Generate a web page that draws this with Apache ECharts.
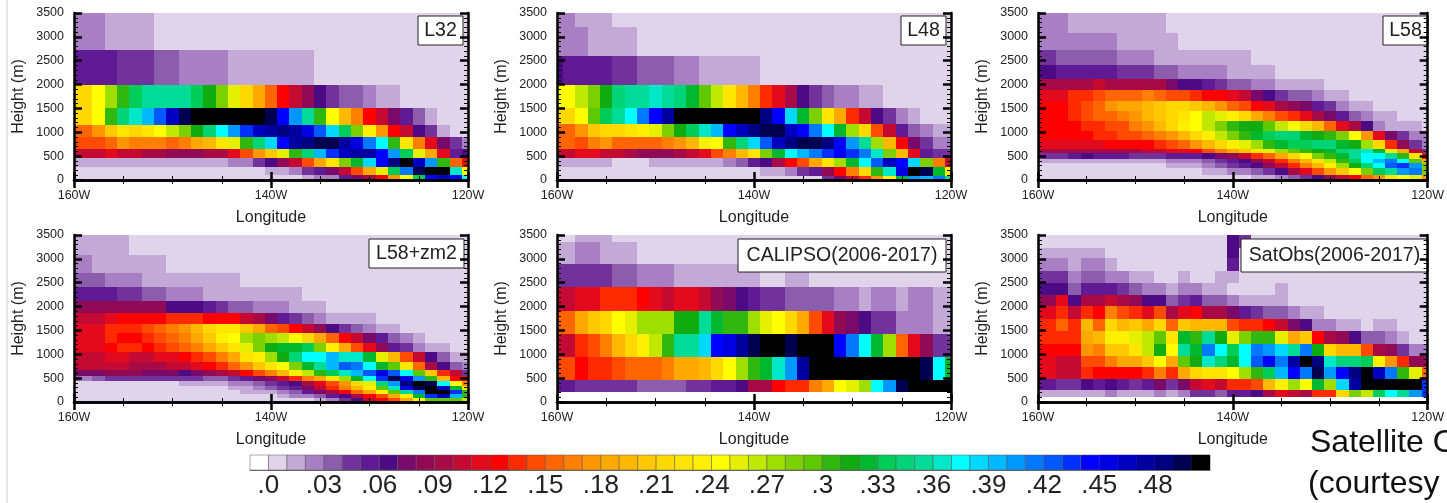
<!DOCTYPE html>
<html>
<head>
<meta charset="utf-8">
<title>Cloud fraction sections</title>
<script src="https://cdn.jsdelivr.net/npm/echarts@6/dist/echarts.min.js"></script>
<style>
  body { margin: 0; background: #fff; overflow: hidden; }
  #chart { width: 1447px; height: 503px; }
</style>
</head>
<body>
<div id="chart"></div>
<script>
// colour bar, one colour per 0.01 bin, index 0 is the white cell below .0
var palette = ['#ffffff','#e0d4ea','#c3a9d5','#a87fc2','#8c5cad','#72329c','#5f1a94','#4d0a85','#7a0a6a','#900a55','#a80a45','#c40a32','#e30a1e','#ff0000','#ff2a00','#ff4b00','#ff6500','#ff7f00','#ff9500','#ffa800','#ffb800','#ffc800','#ffd800','#ffe600','#fff000','#ffff00','#e4f000','#c0e800','#a0de00','#7dd000','#5ec800','#30b810','#10ac10','#00b830','#00cc58','#00d478','#00dc98','#00e8c8','#00ffff','#00d8ff','#00b8ff','#0098ff','#0078ff','#0058ff','#0030ff','#0000ff','#0000e0','#0000c0','#0000a0','#000080','#000050','#000000'];
var colorbarTicks = [0,3,6,9,12,15,18,21,24,27,30,33,36,39,42,45,48];
var colorbarLabels = ['.0','.03','.06','.09','.12','.15','.18','.21','.24','.27','.3','.33','.36','.39','.42','.45','.48'];

// longitudes of the 33 columns, every 1.25 degrees
var lons = [-160,-158.75,-157.5,-156.25,-155,-153.75,-152.5,-151.25,-150,-148.75,-147.5,-146.25,-145,-143.75,-142.5,-141.25,-140,-138.75,-137.5,-136.25,-135,-133.75,-132.5,-131.25,-130,-128.75,-127.5,-126.25,-125,-123.75,-122.5,-121.25,-120];

// each panel: height edges (m, top down) and one row of colour bins per layer
var l32Heights = [3500,2733,2000,1500,1150,906,650,453,280,105,0];
var l32Rows = [
  [3,3,3,2,2,2,2,1,1,1,1,1,1,1,1,1,1,1,1,1,1,1,1,1,1,1,1,1,1,1,1,1,1],
  [6,6,6,6,5,5,5,4,4,3,3,3,3,2,2,2,2,2,2,2,1,1,1,1,1,1,1,1,1,1,1,1,1],
  [22,22,25,28,31,34,36,36,36,36,34,32,29,26,22,19,16,13,11,9,7,5,4,4,3,2,2,1,1,1,1,1,1],
  [22,22,25,31,35,37,40,43,47,50,51,51,51,51,51,51,50,45,41,36,31,25,20,17,13,11,8,6,4,2,1,1,1],
  [16,16,18,21,23,22,23,25,27,29,32,35,38,41,44,47,48,49,48,46,43,39,34,29,24,18,13,11,7,5,2,1,1],
  [15,15,15,16,18,17,17,17,16,17,19,20,23,26,31,35,39,45,48,49,50,50,48,46,42,38,31,23,17,12,8,5,3],
  [11,11,11,12,11,11,10,10,9,9,9,10,10,12,15,18,21,26,31,35,40,44,47,48,48,45,41,34,26,19,12,6,7],
  [2,2,2,2,2,2,2,2,2,2,2,2,2,3,3,5,7,9,11,15,19,23,29,33,39,45,49,51,47,41,31,16,12],
  [1,1,1,1,1,1,1,1,1,1,1,1,1,1,1,1,2,2,3,5,6,8,11,15,19,26,34,42,50,51,51,37,25],
  [1,1,1,1,1,1,1,1,1,1,1,1,1,1,1,1,1,1,1,2,3,3,6,8,10,13,18,25,34,45,47,45,38]
];

var l48Heights = [3500,3208,2601,2000,1500,1170,906,660,467,280,84,0];
var l48Rows = [
  [3,3,2,2,2,1,1,1,1,1,1,1,1,1,1,1,1,1,1,1,1,1,1,1,1,1,1,1,1,1,1,1,1],
  [3,3,3,2,2,2,2,1,1,1,1,1,1,1,1,1,1,1,1,1,1,1,1,1,1,1,1,1,1,1,1,1,1],
  [7,6,6,6,6,5,5,4,4,4,3,3,2,2,2,2,2,1,1,1,1,1,1,1,1,1,1,1,1,1,1,1,1],
  [25,25,27,29,32,35,36,36,37,36,35,33,30,27,23,20,17,14,12,10,7,5,4,3,3,2,2,1,1,1,1,1,1],
  [22,22,25,30,34,36,38,42,45,48,51,51,51,51,51,51,51,49,45,39,33,29,23,19,14,11,7,5,3,2,1,1,1],
  [16,16,18,21,22,22,23,24,26,29,32,34,37,40,45,47,49,50,50,47,45,42,38,33,28,22,15,11,6,4,3,2,2],
  [16,16,15,17,18,16,16,16,16,17,18,20,24,25,31,35,39,43,47,49,50,50,49,45,41,36,28,20,13,8,5,3,3],
  [11,11,12,12,11,11,10,9,9,9,10,11,12,15,17,20,23,29,33,38,40,42,44,45,44,42,37,29,20,12,6,5,5],
  [2,2,2,2,2,1,1,1,2,2,2,2,2,2,3,4,6,7,10,13,15,19,23,28,33,38,43,47,45,39,29,17,11],
  [1,1,1,1,1,1,1,1,1,1,1,1,1,1,1,1,1,2,2,3,5,6,9,13,17,22,31,37,46,51,50,33,24],
  [1,1,1,1,1,1,1,1,1,1,1,1,1,1,1,1,1,1,1,1,1,1,5,8,11,14,18,24,33,41,40,42,36]
];

var l58Heights = [3500,3082,2734,2406,2127,1883,1660,1450,1241,1032,837,649,558,432,349,244,105,0];
var l58Rows = [
  [3,3,3,2,2,2,2,2,2,2,2,1,1,1,1,1,1,1,1,1,1,1,1,1,1,1,1,1,1,1,1,1,1],
  [3,3,3,3,3,3,3,2,2,2,2,2,1,1,1,1,1,1,1,1,1,1,1,1,1,1,1,1,1,1,1,1,1],
  [5,5,4,4,4,4,4,3,3,3,2,2,2,2,2,2,2,2,1,1,1,1,1,1,1,1,1,1,1,1,1,1,1],
  [7,7,6,6,6,6,6,5,5,5,4,4,3,3,3,3,2,2,2,2,1,1,1,1,1,1,1,1,1,1,1,1,1],
  [10,10,10,10,10,11,10,10,10,10,10,8,7,7,6,5,4,4,3,3,2,2,2,2,1,1,1,1,1,1,1,1,1],
  [12,12,12,14,14,15,16,16,16,17,16,15,15,14,13,13,12,11,8,7,5,4,4,3,2,2,1,1,1,1,1,1,1],
  [13,13,13,14,15,16,18,19,19,20,21,22,22,21,20,18,16,15,13,12,10,9,8,6,5,3,2,2,1,1,1,1,1],
  [13,13,13,14,15,16,16,17,18,20,21,22,23,25,27,26,24,22,19,17,15,14,12,10,8,6,4,3,2,2,1,1,1],
  [13,13,13,13,14,14,15,15,17,18,20,22,24,25,27,29,31,32,32,30,27,25,22,20,16,12,10,7,3,2,2,2,1],
  [13,13,13,13,13,14,14,15,15,16,17,18,20,22,24,27,29,31,33,34,35,35,33,32,31,29,25,18,12,8,5,3,3],
  [12,12,12,12,12,12,13,13,13,13,14,15,16,18,20,22,24,26,28,31,33,34,34,35,35,33,32,28,22,14,9,5,3],
  [10,10,10,10,10,10,10,10,10,11,11,12,12,13,15,17,19,21,23,26,28,30,31,32,33,35,36,37,33,26,19,11,5],
  [5,5,5,6,7,6,6,6,5,5,5,6,6,6,7,8,9,11,14,16,19,22,25,29,31,33,36,38,38,36,31,23,13],
  [2,2,2,2,2,2,2,2,2,2,2,3,3,3,4,5,6,7,9,11,14,17,20,23,27,31,34,38,40,42,38,30,20],
  [1,1,1,1,1,1,1,1,1,1,1,2,2,2,3,4,5,6,7,9,11,14,17,20,24,28,32,35,38,43,44,41,29],
  [1,1,1,1,1,1,1,1,1,1,1,1,1,1,2,2,3,3,4,5,7,10,12,15,18,21,25,29,34,36,41,42,29],
  [1,1,1,1,1,1,1,1,1,1,1,1,1,1,1,1,1,1,2,2,3,4,5,7,9,11,13,16,18,23,25,26,18]
];

var zm2Heights = [3500,3083,2714,2401,2122,1865,1642,1447,1239,1044,842,661,543,438,334,251,160,77,0];
var zm2Rows = [
  [2,2,2,2,2,1,1,1,1,1,1,1,1,1,1,1,1,1,1,1,1,1,1,1,1,1,1,1,1,1,1,1,1],
  [3,3,2,2,2,2,2,2,1,1,1,1,1,1,1,1,1,1,1,1,1,1,1,1,1,1,1,1,1,1,1,1,1],
  [4,4,4,3,3,3,2,2,2,2,2,2,2,2,1,1,1,1,1,1,1,1,1,1,1,1,1,1,1,1,1,1,1],
  [6,6,6,6,5,5,4,4,3,3,3,2,2,2,2,2,2,2,2,1,1,1,1,1,1,1,1,1,1,1,1,1,1],
  [9,9,9,9,9,9,9,9,7,7,7,6,5,4,4,3,3,3,2,2,2,1,1,1,1,1,1,1,1,1,1,1,1],
  [11,11,11,12,13,13,13,13,14,14,14,13,13,13,11,10,8,6,5,4,3,2,2,2,2,1,1,1,1,1,1,1,1],
  [12,12,12,14,14,14,15,16,17,18,20,22,23,23,21,19,16,15,13,11,9,7,5,4,3,2,2,1,1,1,1,1,1],
  [12,12,12,14,13,13,14,15,16,17,19,21,24,25,28,29,28,27,25,22,19,16,13,11,8,6,4,3,2,1,1,1,1],
  [12,12,12,13,14,14,13,14,15,16,17,19,21,23,26,29,32,33,33,34,29,24,19,15,12,9,6,5,3,2,2,1,1],
  [11,11,11,12,12,11,11,12,12,13,14,15,17,19,23,24,28,32,35,38,38,40,37,37,33,26,20,15,11,7,4,2,2],
  [11,11,11,11,11,10,10,10,11,11,12,13,14,16,18,21,23,25,29,33,36,40,43,42,38,33,30,23,16,10,7,4,3],
  [8,8,8,9,9,9,8,8,8,7,8,9,10,11,13,15,17,20,24,27,31,34,37,40,43,46,43,38,30,21,14,11,5],
  [4,3,4,5,5,5,5,5,5,5,5,4,4,5,6,8,9,11,14,17,19,23,28,33,38,44,50,46,41,31,20,13,12],
  [1,1,1,1,1,1,1,1,1,2,2,2,2,3,3,4,5,6,7,10,12,15,18,22,26,35,41,49,51,50,38,25,17],
  [1,1,1,1,1,1,1,1,1,1,1,1,1,2,2,3,4,5,6,8,11,14,17,20,24,30,37,46,50,51,47,33,26],
  [1,1,1,1,1,1,1,1,1,1,1,1,1,1,2,2,2,3,4,6,8,10,13,16,19,24,30,36,42,51,51,44,31],
  [1,1,1,1,1,1,1,1,1,1,1,1,1,1,1,1,1,2,3,3,4,6,7,10,13,15,19,24,33,44,47,40,31],
  [1,1,1,1,1,1,1,1,1,1,1,1,1,1,1,1,1,1,1,1,2,3,5,7,11,13,15,19,25,30,30,30,27]
];

var calipsoHeights = [3500,3361,2888,2400,1914,1427,946,466,216,0];
var calipsoRows = [
  [1,1,2,2,2,1,1,1,1,1,1,1,1,1,1,1,1,1,1,1,1,1,1,1,1,1,1,1,1,1,1,1,1],
  [2,2,3,3,2,2,2,1,1,1,1,1,1,1,1,1,1,1,1,1,1,1,1,1,1,1,1,1,1,1,1,1,1],
  [5,5,5,5,5,4,4,3,3,3,2,2,2,2,2,2,2,1,1,2,2,1,1,1,1,1,1,1,1,1,1,1,1],
  [11,11,12,12,14,14,14,13,12,11,12,12,11,9,8,7,6,5,5,4,4,4,4,3,3,2,3,3,2,3,3,2,2],
  [16,16,19,21,22,25,26,28,28,28,32,32,36,33,31,31,28,26,25,22,19,15,12,9,8,7,5,5,3,3,3,2,2],
  [11,11,14,15,17,20,22,24,27,31,36,36,39,45,46,48,50,51,51,50,51,51,51,45,42,38,33,28,16,12,9,5,5],
  [15,15,13,14,14,15,16,16,16,17,19,19,20,22,25,28,31,33,37,41,48,51,51,51,51,51,51,51,51,51,50,38,33],
  [6,6,5,5,5,5,5,4,4,4,4,5,5,6,6,7,10,10,13,14,14,17,19,25,26,28,38,41,50,51,51,51,51],
  [0,0,0,0,0,0,0,0,0,0,0,0,0,0,0,0,0,0,0,0,0,0,0,0,0,0,0,0,0,0,0,0,0]
];

var satobsHeights = [3500,3236,3027,2749,2491,2248,2004,1740,1482,1225,974,731,473,244,104,0];
var satobsRows = [
  [1,1,1,1,1,1,1,1,1,1,1,1,1,1,1,1,7,5,1,1,1,1,1,1,1,1,1,1,1,1,1,1,1],
  [2,2,2,2,2,2,1,1,1,1,1,1,1,1,1,1,7,1,1,1,1,1,1,1,1,1,1,1,1,1,1,1,1],
  [3,3,3,2,3,3,2,1,1,1,1,1,1,1,1,1,6,1,1,1,1,1,1,1,1,1,1,1,1,1,1,1,1],
  [5,5,5,3,4,4,3,3,2,2,1,1,2,1,1,2,2,1,1,1,1,1,1,1,1,1,1,1,1,1,1,1,1],
  [7,7,7,4,6,6,6,5,4,3,3,2,3,3,2,2,1,1,1,1,2,1,1,1,1,1,1,1,1,1,1,1,1],
  [9,9,12,7,10,10,11,10,9,7,7,4,5,6,4,4,3,2,2,2,2,1,1,1,1,1,1,1,1,1,1,1,1],
  [12,12,14,11,14,13,17,15,14,12,15,10,12,13,10,10,8,6,5,4,4,3,2,2,1,1,1,1,1,1,1,1,1],
  [14,14,16,14,20,16,22,20,21,19,22,16,21,20,20,20,15,14,14,13,11,8,7,3,3,2,2,1,2,2,1,1,1],
  [14,14,14,14,19,20,24,24,26,27,30,23,33,31,36,32,26,29,31,31,26,19,21,13,10,9,7,4,4,3,2,1,1],
  [13,13,13,13,18,17,21,21,23,27,32,25,36,33,42,38,34,38,42,41,39,36,42,32,22,20,20,15,10,9,5,3,3],
  [12,12,11,11,15,15,17,19,19,21,25,19,30,32,37,35,33,38,43,45,42,48,51,49,37,35,35,34,24,18,14,9,9],
  [12,12,11,11,14,13,13,13,13,14,17,14,19,22,23,23,25,28,31,34,40,45,42,50,41,45,49,51,47,42,31,26,16],
  [6,6,5,5,7,6,7,6,5,6,8,5,8,11,12,11,14,14,15,20,24,28,25,33,28,39,48,51,51,51,51,51,44],
  [2,2,2,2,2,2,3,2,2,2,3,2,3,5,5,4,6,6,7,10,12,11,10,14,14,22,29,27,34,38,36,41,44],
  [0,0,0,0,0,0,0,0,0,0,0,0,0,0,0,0,0,0,0,0,0,0,0,0,0,0,0,0,0,0,0,0,0]
];

var panels = [
  {name: 'L32', heights: l32Heights, rows: l32Rows, left: 74, top: 13, box: [418, 16, 45, 29]},
  {name: 'L48', heights: l48Heights, rows: l48Rows, left: 557, top: 13, box: [901, 16, 45, 29]},
  {name: 'L58', heights: l58Heights, rows: l58Rows, left: 1038, top: 13, box: [1383, 16, 45, 29]},
  {name: 'L58+zm2', heights: zm2Heights, rows: zm2Rows, left: 74, top: 235, box: [369, 239, 95, 29]},
  {name: 'CALIPSO(2006-2017)', heights: calipsoHeights, rows: calipsoRows, left: 557, top: 235, box: [738, 239, 208, 33]},
  {name: 'SatObs(2006-2017)', heights: satobsHeights, rows: satobsRows, left: 1038, top: 235, box: [1241, 239, 187, 33]}
];

var fontName = '"Liberation Sans", Arial, sans-serif';

// whole pixel edges so neighbouring cells leave no seam
function renderCell(params, api) {
  var p0 = api.coord([api.value(0), api.value(3)]);
  var p1 = api.coord([api.value(1), api.value(2)]);
  var x0 = Math.round(p0[0]), x1 = Math.round(p1[0]);
  var y0 = Math.round(p0[1]), y1 = Math.round(p1[1]);
  return {
    type: 'rect',
    shape: {x: x0, y: y0, width: x1 - x0, height: y1 - y0},
    style: {fill: palette[api.value(4)]}
  };
}

function panelCells(panel) {
  var cells = [];
  panel.rows.forEach(function (row, r) {
    row.forEach(function (bin, k) {
      cells.push([lons[k] - 0.625, lons[k] + 0.625, panel.heights[r + 1], panel.heights[r], bin]);
    });
  });
  return cells;
}

var grids = [], xAxes = [], yAxes = [], series = [], graphics = [];

panels.forEach(function (panel, i) {
  grids.push({left: panel.left, top: panel.top, width: 394, height: 167});
  var line = {show: true, lineStyle: {color: '#000', width: 2.5}};
  var tick = {show: true, inside: true, length: 8, lineStyle: {color: '#000', width: 2.5}};
  var xMinor = {show: true, splitNumber: 4, length: 4, lineStyle: {color: '#000', width: 1}};
  var yMinor = {show: true, splitNumber: 5, length: 4, lineStyle: {color: '#000', width: 1}};
  ['bottom', 'top'].forEach(function (pos) {
    xAxes.push({
      type: 'value', gridIndex: i, position: pos, min: -160, max: -120, interval: 20, z: 10,
      axisLine: line, axisTick: tick, minorTick: xMinor, splitLine: {show: false},
      name: pos == 'bottom' ? 'Longitude' : '', nameLocation: 'middle', nameGap: 30,
      nameTextStyle: {color: '#222', fontSize: 16, fontFamily: fontName},
      axisLabel: {
        show: pos == 'bottom', margin: 9, color: '#222', fontSize: 12.5, fontFamily: fontName,
        formatter: function (v) { return Math.abs(v) + 'W'; }
      }
    });
  });
  ['left', 'right'].forEach(function (pos) {
    yAxes.push({
      type: 'value', gridIndex: i, position: pos, min: 0, max: 3500, interval: 500, z: 10,
      axisLine: line, axisTick: tick, minorTick: yMinor, splitLine: {show: false},
      name: pos == 'left' ? 'Height (m)' : '', nameLocation: 'middle', nameGap: 47, nameRotate: 90,
      nameTextStyle: {color: '#222', fontSize: 16, fontFamily: fontName},
      axisLabel: {
        show: pos == 'left', margin: 10, color: '#222', fontSize: 12.5, fontFamily: fontName,
        formatter: function (v) { return String(v); }
      }
    });
  });
  series.push({
    type: 'custom', xAxisIndex: i * 2, yAxisIndex: i * 2, clip: true, z: 2,
    encode: {x: [0, 1], y: [2, 3]}, renderItem: renderCell, data: panelCells(panel)
  });
  graphics.push({
    type: 'rect', z: 5,
    shape: {x: panel.box[0], y: panel.box[1], width: panel.box[2], height: panel.box[3]},
    style: {fill: '#fff', stroke: '#222', lineWidth: 1}
  });
  graphics.push({
    type: 'text', z: 6, x: panel.box[0] + panel.box[2] / 2, y: panel.box[1] + panel.box[3] / 2,
    style: {text: panel.name, fill: '#222', font: '19.5px ' + fontName, textAlign: 'center', textVerticalAlign: 'middle'}
  });
});

// colour bar
var barIndex = panels.length;
grids.push({left: 250, top: 455, width: 960, height: 15});
xAxes.push({
  type: 'value', gridIndex: barIndex, min: -1, max: 51, z: 10,
  axisLine: {show: true, lineStyle: {color: '#666', width: 1}}, axisTick: {show: false}, splitLine: {show: false},
  axisLabel: {
    show: true, customValues: colorbarTicks, margin: 3, color: '#222', fontSize: 26, fontFamily: fontName,
    formatter: function (v) { return colorbarLabels[colorbarTicks.indexOf(v)]; }
  }
});
yAxes.push({type: 'value', gridIndex: barIndex, min: 0, max: 1, show: false});
series.push({
  type: 'custom', xAxisIndex: panels.length * 2, yAxisIndex: panels.length * 2, z: 2,
  encode: {x: 0, y: 1},
  renderItem: function (params, api) {
    var p0 = api.coord([api.value(0) - 1, 1]);
    var p1 = api.coord([api.value(0), 0]);
    var color = palette[api.value(0)];
    return {
      type: 'rect',
      shape: {x: p0[0], y: p0[1], width: p1[0] - p0[0], height: p1[1] - p0[1]},
      style: {fill: color, stroke: api.value(0) > 45 ? color : '#555', lineWidth: 0.5}
    };
  },
  data: palette.map(function (c, i) { return [i, 1]; })
});

// page furniture around the panels
graphics.push({type: 'line', shape: {x1: 7, y1: 0, x2: 7, y2: 503}, style: {stroke: '#cfcfcf', lineWidth: 1}});
graphics.push({type: 'text', x: 1310, y: 443, style: {text: 'Satellite O', fill: '#111', font: '32px ' + fontName, textVerticalAlign: 'middle'}});
graphics.push({type: 'text', x: 1308, y: 484, style: {text: '(courtesy', fill: '#111', font: '32px ' + fontName, textVerticalAlign: 'middle'}});

var myChart = echarts.init(document.getElementById('chart'));
myChart.setOption({
  animation: false,
  backgroundColor: '#fff',
  grid: grids,
  xAxis: xAxes,
  yAxis: yAxes,
  series: series,
  graphic: {elements: graphics}
});
</script>
</body>
</html>
